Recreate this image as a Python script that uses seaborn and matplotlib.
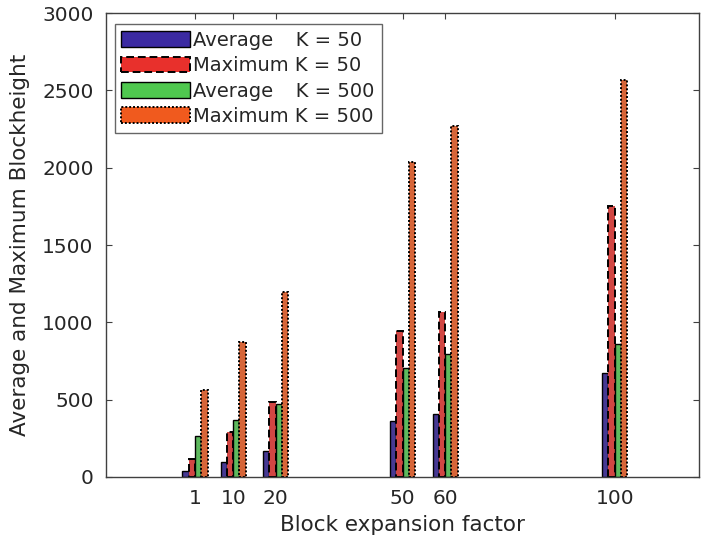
import numpy as np
import pandas as pd
import matplotlib
matplotlib.use("Agg")
import matplotlib.pyplot as plt
from matplotlib.patches import Patch
import seaborn as sns

# Block expansion factors (x positions) and the four measured series
factors = [1, 10, 20, 50, 60, 100]
avg_k50 = [40, 95, 165, 360, 410, 675]
max_k50 = [115, 290, 485, 945, 1065, 1750]
avg_k500 = [265, 370, 470, 705, 795, 860]
max_k500 = [560, 870, 1195, 2040, 2270, 2570]

series_names = ["Average   \u2009K = 50", "Maximum K = 50",
                "Average   \u2009K = 500", "Maximum K = 500"]
series_values = [avg_k50, max_k50, avg_k500, max_k500]

colors = ["#3b2aa2", "#e8302c", "#4fc84f", "#f05a1e"]
edge_styles = ["-", (0, (4, 2)), "-", (0, (1, 1))]
edge_widths = [1.0, 1.4, 1.0, 1.4]

df = pd.DataFrame({
    "factor": np.tile(factors, len(series_names)),
    "value": np.concatenate(series_values),
    "series": np.repeat(series_names, len(factors)),
})

sns.set_theme(style="white")
plt.rcParams["font.family"] = ["DejaVu Sans"]

fig = plt.figure(figsize=(7.04, 5.48), dpi=100)
ax = fig.add_axes([0.1506, 0.1296, 0.843, 0.8464])

sns.barplot(data=df, x="factor", y="value", hue="series",
            hue_order=series_names, palette=colors, native_scale=True,
            width=0.66, edgecolor="black", linewidth=1.0,
            errorbar=None, legend=False, ax=ax)

for cont, ls, lw in zip(ax.containers, edge_styles, edge_widths):
    for bar in cont:
        bar.set_linestyle(ls)
        bar.set_linewidth(lw)

ax.set_xlim(-20, 120)
ax.set_ylim(0, 3000)
ax.set_xticks(factors)
ax.set_xticklabels([str(f) for f in factors])
ax.set_yticks(np.arange(0, 3001, 500))

text_col = "#262626"
ax.set_xlabel("Block expansion factor", fontsize=15.5, color=text_col, labelpad=5)
ax.set_ylabel("Average and Maximum Blockheight", fontsize=15.5, color=text_col,
              labelpad=9)
ax.tick_params(axis="both", which="both", direction="in", length=4,
               width=0.8, color="#404040", labelsize=14.5, labelcolor=text_col,
               top=True, right=True, bottom=True, left=True, pad=9)

for sp in ax.spines.values():
    sp.set_visible(True)
    sp.set_color("#404040")
    sp.set_linewidth(1.0)

handles = [Patch(facecolor=c, edgecolor="black", linestyle=ls, linewidth=lw)
           for c, ls, lw in zip(colors, edge_styles, edge_widths)]
leg = ax.legend(handles, series_names, loc="upper left",
                bbox_to_anchor=(0.008, 0.985), fontsize=14,
                handlelength=3.5, handleheight=0.88, handletextpad=0.2,
                labelspacing=0.33, borderpad=0.35, borderaxespad=0.2,
                frameon=True, fancybox=False, edgecolor="#404040")
leg.get_frame().set_linewidth(1.0)
for t in leg.get_texts():
    t.set_color(text_col)

fig.savefig("out.png", dpi=100)
